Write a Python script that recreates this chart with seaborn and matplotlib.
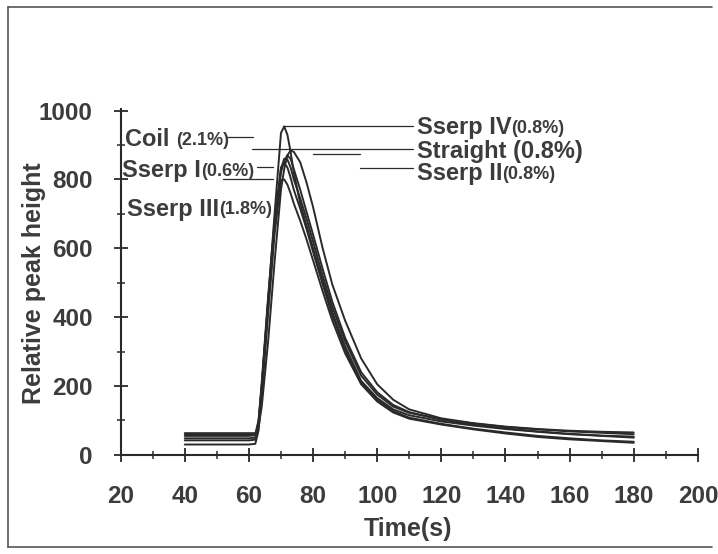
import numpy as np
import pandas as pd
import matplotlib
matplotlib.use("Agg")
import matplotlib.pyplot as plt
from matplotlib.lines import Line2D
from matplotlib.ticker import MultipleLocator
import seaborn as sns

# ---------------- data ----------------
time_s = [40, 50, 60, 62, 63, 64, 66, 68, 70, 71, 72, 73, 74, 76, 78, 80, 83, 86,
          90, 95, 100, 105, 110, 120, 130, 140, 150, 160, 170, 180]

sserp_iv = [48, 48, 48, 50, 90, 200, 450, 700, 935, 954, 930, 880, 820, 730, 665, 600, 505, 415,
            315, 215, 165, 132, 115, 97, 85, 75, 67, 60, 55, 50]
coil = [58, 58, 58, 60, 100, 210, 460, 680, 830, 860, 858, 835, 800, 745, 685, 620, 520, 430,
        330, 230, 175, 140, 122, 103, 91, 81, 74, 68, 64, 60]
sserp_i = [42, 42, 42, 44, 85, 190, 440, 670, 835, 848, 835, 805, 770, 715, 655, 590, 495, 405,
           305, 210, 160, 127, 108, 90, 76, 65, 55, 48, 42, 38]
sserp_ii = [55, 55, 55, 57, 95, 200, 445, 670, 820, 855, 870, 860, 830, 770, 705, 640, 540, 445,
            340, 240, 182, 145, 124, 102, 88, 77, 68, 61, 56, 53]
sserp_iii = [30, 30, 30, 32, 70, 170, 410, 640, 798, 800, 785, 760, 730, 680, 625, 565, 475, 390,
             295, 205, 155, 123, 105, 88, 74, 62, 52, 45, 40, 35]
straight = [63, 63, 63, 63, 80, 140, 330, 560, 770, 830, 870, 884, 880, 850, 790, 720, 600, 495,
            390, 280, 205, 160, 132, 106, 92, 82, 75, 70, 67, 65]

series_names = ["Sserp IV", "Coil", "Sserp I", "Sserp II", "Sserp III", "Straight"]
series_values = [sserp_iv, coil, sserp_i, sserp_ii, sserp_iii, straight]

x_ticks = [20, 40, 60, 80, 100, 120, 140, 160, 180, 200]
y_ticks = [0, 200, 400, 600, 800, 1000]

# labels: (main text, small text, x, y)
labels = [
    ("Sserp IV", "(0.8%)", 112.4, 951),
    ("Straight (0.8%)", "", 112.4, 881),
    ("Sserp II", "(0.8%)", 112.4, 818),
    ("Coil ", "(2.1%)", 21.4, 916),
    ("Sserp I", "(0.6%)", 20.4, 827),
    ("Sserp III", "(1.8%)", 21.9, 714),
]
# leader lines: (x0, x1, y0, y1)
leaders = [
    (70.5, 111.1, 954, 954),
    (61.0, 111.1, 887, 887),
    (80.0, 94.6, 873, 873),
    (94.6, 111.1, 832, 832),
    (53.2, 61.2, 922, 922),
    (62.5, 67.5, 835, 835),
    (51.9, 67.5, 800, 800),
]

# ---------------- build long table ----------------
rows = []
for name, vals in zip(series_names, series_values):
    for t, v in zip(time_s, vals):
        rows.append({"Time": t, "Height": v, "Series": name})
df = pd.DataFrame(rows)

sns.set_style("ticks")
plt.rcParams["font.family"] = ["Liberation Sans", "DejaVu Sans"]
plt.rcParams["font.weight"] = "bold"

txt_color = "#3c3c3c"
line_color = "#2a2a2a"

fig = plt.figure(figsize=(7.18, 5.54), dpi=100)
ax = fig.add_axes([0.168, 0.179, 0.804, 0.6245])

palette = {n: line_color for n in series_names}
sns.lineplot(data=df, x="Time", y="Height", hue="Series", palette=palette,
             legend=False, linewidth=1.4, ax=ax, sort=True, estimator=None)

ax.set_xlim(20, 200)
ax.set_ylim(0, 1005)
ax.set_xticks(x_ticks)
ax.set_yticks(y_ticks)
ax.xaxis.set_minor_locator(MultipleLocator(10))
ax.yaxis.set_minor_locator(MultipleLocator(100))
ax.tick_params(axis="both", which="major", direction="inout", length=10, width=1.3,
               color=line_color, labelsize=17.5, labelcolor=txt_color)
ax.tick_params(axis="both", which="minor", direction="inout", length=6, width=1.1,
               color=line_color)
ax.tick_params(axis="x", which="major", pad=17)
ax.tick_params(axis="y", which="major", pad=15)
for lab in ax.get_xticklabels() + ax.get_yticklabels():
    lab.set_fontweight("bold")

sns.despine(ax=ax)
for sp in ["left", "bottom"]:
    ax.spines[sp].set_linewidth(1.5)
    ax.spines[sp].set_color(line_color)

ax.set_xlabel("Time(s)", fontsize=18, fontweight="bold", color=txt_color)
ax.set_ylabel("Relative peak height", fontsize=18, fontweight="bold", color=txt_color)
ax.xaxis.set_label_coords(0.498, -0.18)
ax.yaxis.set_label_coords(-0.13, 0.497)

# leader lines
for x0, x1, y0, y1 in leaders:
    ax.plot([x0, x1], [y0, y1], color=line_color, linewidth=0.9, clip_on=False)

# labels with mixed font sizes
for main, small, x, y in labels:
    t1 = ax.text(x, y, main, fontsize=17, fontweight="bold", color=txt_color,
                 ha="left", va="center")
    if small:
        ax.annotate(small, xy=(1, 0), xycoords=t1, xytext=(0, 1.5),
                    textcoords="offset points", fontsize=13, fontweight="bold",
                    color=txt_color, ha="left", va="bottom")

# figure frame (scanned border)
fx0, fx1 = 8 / 718, 712 / 718
fy0, fy1 = 1 - 547 / 554, 1 - 7 / 554
for xs, ys in [([fx0, fx0], [fy0, fy1]), ([fx0, fx1], [fy1, fy1]), ([fx0, fx1], [fy0, fy0])]:
    fig.add_artist(Line2D(xs, ys, transform=fig.transFigure, color="#555555", linewidth=1.2))

fig.savefig("out.png", dpi=100)
